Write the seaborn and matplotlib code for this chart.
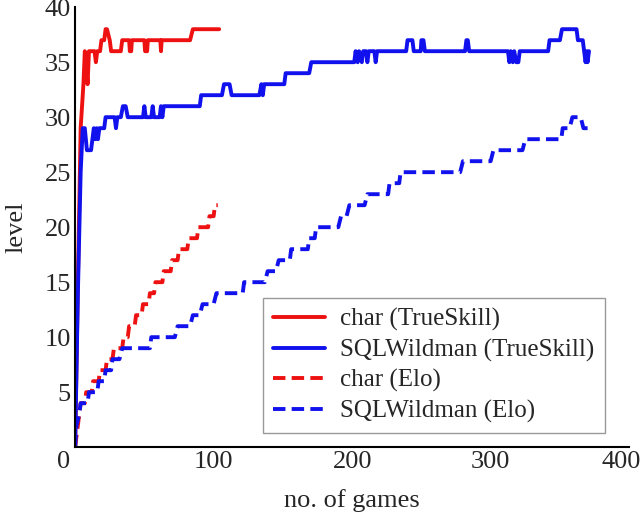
import seaborn as sns
from matplotlib import pyplot as plt
from matplotlib import transforms
import pandas as pd

sns.set_style("white")
plt.rcParams['font.family'] = ['Liberation Serif', 'DejaVu Serif']

# level of each player over the number of games played
char_ts_games = [0, 2, 4, 6, 7, 8, 9, 10, 14, 15, 16, 18, 19, 21, 22, 23, 25, 26, 33, 34, 39, 39.5,
                 40.5, 41, 50, 50.5, 52, 52.5, 61.5, 62, 62.5, 83, 85, 104]
char_ts_level = [0, 15, 29, 33, 36, 35, 33, 36, 36, 35, 36, 36, 37, 37, 38, 38, 37, 36, 36, 37, 37, 36,
                 36, 37, 37, 36, 36, 37, 37, 36, 37, 37, 38, 38]

sql_ts_games = [0, 2, 4, 5.5, 7, 8.5, 11.5, 12.5, 13.5, 14.5, 15.5, 16.5, 17.5, 21, 22, 28.5, 29.5, 30.5,
                33, 34.5, 36.5, 38, 49, 50, 51, 55, 56, 57, 61, 62, 63, 64, 90, 91, 106, 107.5, 111.5,
                113, 133, 134.5, 135.5, 136.5, 151, 152, 169, 170.5, 201.5, 202.5, 204, 205, 207, 208,
                210, 211, 212, 216, 217, 218, 239, 240, 243.5, 244.5, 249.5, 250, 251.5, 252.5, 281.5,
                282.5, 283.5, 284.5, 312.5, 313.5, 314.5, 316, 317, 318.5, 320, 321, 341.5, 342.5, 350,
                351.5, 362, 363, 366.5, 367.5, 368.5, 369.5, 370, 371]
sql_ts_level = [0, 14, 25, 29, 29, 27, 27, 28, 29, 28, 29, 28, 29, 29, 30, 30, 29, 30,
                30, 31, 31, 30, 30, 31, 30, 30, 31, 30, 30, 31, 30, 31, 31, 32, 32, 33, 33,
                32, 32, 33, 32, 33, 33, 34, 34, 35, 35, 36, 35, 36, 35, 36,
                36, 35, 36, 36, 35, 36, 36, 37, 37, 36, 36, 37, 37, 36, 36,
                37, 37, 36, 36, 35, 36, 35, 36, 35, 35, 36, 36, 37, 37,
                38, 38, 37, 37, 36, 35, 36, 35, 36]

char_elo_games = [0, 2, 4, 7, 8, 12, 13, 17, 18, 22, 23, 27, 28, 34, 35, 38, 39, 43, 44, 48, 49, 53,
                  54, 57, 58, 63, 64, 69, 70, 74, 75, 81, 82, 88, 89, 96, 97, 100, 101, 103]
char_elo_level = [0, 2, 4, 4, 5, 5, 6, 6, 7, 7, 8, 8, 9, 9, 10, 10, 11, 11, 12, 12, 13, 13,
                  14, 14, 15, 15, 16, 16, 17, 17, 18, 18, 19, 19, 20, 20, 21, 21, 22, 22]

sql_elo_games = [0, 1, 3, 4, 9, 10, 16, 17, 21, 22, 26, 27, 32, 34, 54, 55, 72, 74, 83, 85, 90, 92,
                 100, 102, 121, 122, 137, 139, 145, 147, 155, 156, 168, 169, 173, 174, 190, 192, 196,
                 198, 209, 211, 226, 227, 234, 235, 278, 280, 300, 302, 323, 325, 351, 352, 357, 359,
                 365, 367, 370]
sql_elo_level = [0, 2, 3, 4, 4, 5, 5, 6, 6, 7, 7, 8, 8, 9, 9, 10, 10, 11, 11, 12, 12, 13,
                 13, 14, 14, 15, 15, 16, 16, 17, 17, 18, 18, 19, 19, 20, 20, 21, 21,
                 22, 22, 23, 23, 24, 24, 25, 25, 26, 26, 27, 27, 28, 28, 29, 29, 30,
                 30, 29, 29]

series = [
    ('char (TrueSkill)', char_ts_games, char_ts_level, '#ee1111', '-'),
    ('SQLWildman (TrueSkill)', sql_ts_games, sql_ts_level, '#1111ee', '-'),
    ('char (Elo)', char_elo_games, char_elo_level, '#ee1111', (0, (3.2, 1.6))),
    ('SQLWildman (Elo)', sql_elo_games, sql_elo_level, '#1111ee', (0, (3.2, 1.6))),
]

fig, ax = plt.subplots(figsize=(6.42, 5.14), dpi=100)
fig.subplots_adjust(left=0.117, right=0.98, bottom=0.130, top=0.986)

for name, games, level, color, ls in series:
    df = pd.DataFrame({'games': games, 'level': level})
    sns.lineplot(data=df, x='games', y='level', ax=ax, sort=False, estimator=None,
                 color=color, linestyle=ls, linewidth=2.8, label=name)

ax.set_xlim(0, 400)
ax.set_ylim(0, 40)
ax.set_xticks([0, 100, 200, 300, 400])
ax.set_yticks([5, 10, 15, 20, 25, 30, 35, 40])
ax.tick_params(direction='in', length=6, width=1.3, labelsize=19, pad=3)
sns.despine(ax=ax)
for side in ['left', 'bottom']:
    ax.spines[side].set_linewidth(1.5)
    ax.spines[side].set_color('black')

# nudge the outer x tick labels like the original
xlabels = ax.get_xticklabels()
xlabels[0].set_transform(xlabels[0].get_transform() + transforms.ScaledTranslation(-0.12, 0, fig.dpi_scale_trans))
xlabels[-1].set_transform(xlabels[-1].get_transform() + transforms.ScaledTranslation(-0.08, 0, fig.dpi_scale_trans))

ax.set_xlabel('no. of games', fontsize=19, labelpad=11)
ax.set_ylabel('level', fontsize=19, labelpad=12)

leg = ax.legend(loc='upper left', bbox_to_anchor=(0.339, 0.339), borderaxespad=0, fontsize=18,
                handlelength=2.1, handletextpad=0.6, labelspacing=0.3, fancybox=False,
                framealpha=1, edgecolor='#999999', borderpad=0.4)
leg.get_frame().set_linewidth(1.0)

fig.savefig('out.png', dpi=100)
